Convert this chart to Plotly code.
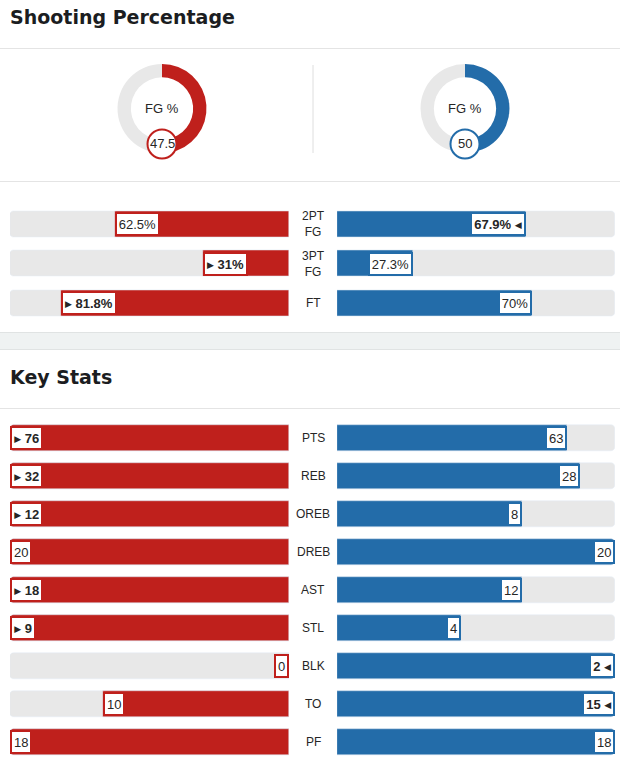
import plotly.graph_objects as go

# ---------------- data ----------------
fg_label = "FG %"
fg_red = 47.5
fg_blue = 50.0
fg_red_txt = "47.5"
fg_blue_txt = "50"

shoot_cats = ["2PT<br>FG", "3PT<br>FG", "FT"]
shoot_red = [62.5, 31.0, 81.8]
shoot_blue = [67.9, 27.3, 70.0]
shoot_red_txt = ["62.5%", "31%", "81.8%"]
shoot_blue_txt = ["67.9%", "27.3%", "70%"]

key_cats = ["PTS", "REB", "OREB", "DREB", "AST", "STL", "BLK", "TO", "PF"]
key_red = [76, 32, 12, 20, 18, 9, 0, 10, 18]
key_blue = [63, 28, 8, 20, 12, 4, 2, 15, 18]

# ---------------- style ----------------
W, H = 620, 764
RED = "#bf201c"
BLUE = "#236ca9"
TRACK = "#e8e8e8"
TXT = "#262626"
RULE = "#e4e4e4"
FONT = "Liberation Sans, Arial, sans-serif"
TFONT = "DejaVu Sans, sans-serif"

RED_X = (10, 289)
BLUE_X = (337, 615)
MID = 313
S_TOP, S_PITCH = 204.25, 39.5
K_TOP, K_PITCH = 419, 38
BAR_PX = 26


def xf(px):
    return px / W


def yf(py):
    return 1 - py / H


# Arial-ish advance widths (em)
CW = {".": 0.278, "%": 0.889, " ": 0.278}


def text_w(s, size):
    return sum(CW.get(c, 0.556) for c in s) * size


fig = go.Figure()


def add_pair(yaxis, xl, xr, n, red_vals, blue_vals, full, width):
    ys = list(range(n))
    common = dict(orientation="h", width=width, hoverinfo="skip", showlegend=False, yaxis=yaxis)
    fig.add_trace(go.Bar(y=ys, x=[full] * n, marker_color=TRACK, xaxis=xl, **common))
    fig.add_trace(go.Bar(y=ys, x=red_vals, marker_color=RED, xaxis=xl, **common))
    fig.add_trace(go.Bar(y=ys, x=[full] * n, marker_color=TRACK, xaxis=xr, **common))
    fig.add_trace(go.Bar(y=ys, x=blue_vals, marker_color=BLUE, xaxis=xr, **common))


# shooting percentage bars (scale 0-100)
add_pair("y", "x", "x2", len(shoot_cats), shoot_red, shoot_blue, 100, BAR_PX / S_PITCH)

# key stats bars (scaled to the larger of the two teams)
key_max = [max(a, b) if max(a, b) > 0 else 1 for a, b in zip(key_red, key_blue)]
key_red_f = [a / m for a, m in zip(key_red, key_max)]
key_blue_f = [b / m for b, m in zip(key_blue, key_max)]
add_pair("y3", "x3", "x4", len(key_cats), key_red_f, key_blue_f, 1, BAR_PX / K_PITCH)

# ---------------- value labels ----------------
TRI_STYLE = "font-size:9px;font-family:DejaVu Sans;baseline-shift:1.5px"
TRI_R = f'<span style="{TRI_STYLE}">▶</span>'
TRI_L = f'<span style="{TRI_STYLE}">◀</span>'


def value_box(xref, yref, x, y, txt, win, side, color, frac, full):
    size = 13
    w = text_w(txt, size)
    if win:
        w += 11
        if side == "red":
            label = f"{TRI_R} <b>{txt}</b>"
        else:
            label = f"<b>{txt}</b> {TRI_L}"
    else:
        label = txt
    bar_px = frac / full * (RED_X[1] - RED_X[0])
    if side == "red":
        anchor = "left" if bar_px >= w + 8 else "right"
    else:
        anchor = "right" if bar_px >= w + 8 else "left"
    fig.add_annotation(
        xref=xref, yref=yref, x=x, y=y, text=label, showarrow=False,
        xanchor=anchor, yanchor="middle", bgcolor="white",
        bordercolor=color, borderwidth=2, borderpad=1,
        width=w + 2, height=18, align="center",
        font=dict(family=FONT, size=size, color=TXT),
    )


for i, (r, b) in enumerate(zip(shoot_red, shoot_blue)):
    value_box("x", "y", r, i, shoot_red_txt[i], r > b, "red", RED, r, 100)
    value_box("x2", "y", b, i, shoot_blue_txt[i], b > r, "blue", BLUE, b, 100)
    fig.add_annotation(xref="paper", yref="y", x=xf(MID), y=i, text=shoot_cats[i],
                       showarrow=False, xanchor="center", yanchor="middle",
                       font=dict(family=FONT, size=12, color=TXT))

for i, (r, b) in enumerate(zip(key_red, key_blue)):
    value_box("x3", "y3", key_red_f[i], i, str(r), r > b, "red", RED, key_red_f[i], 1)
    value_box("x4", "y3", key_blue_f[i], i, str(b), b > r, "blue", BLUE, key_blue_f[i], 1)
    fig.add_annotation(xref="paper", yref="y3", x=xf(MID), y=i, text=key_cats[i],
                       showarrow=False, xanchor="center", yanchor="middle",
                       font=dict(family=FONT, size=12, color=TXT))

# ---------------- donuts ----------------
DONUT_R = 44.5
DONUT_CY = 108.5
donuts = [(162, fg_red, fg_red_txt, RED), (465, fg_blue, fg_blue_txt, BLUE)]
shapes = []
for cx, val, txt, col in donuts:
    fig.add_trace(go.Pie(
        values=[val, 100 - val], marker=dict(colors=[col, TRACK], line=dict(width=0)),
        hole=0.70, sort=False, direction="clockwise", rotation=0,
        textinfo="none", hoverinfo="skip", showlegend=False,
        domain=dict(x=[xf(cx - DONUT_R), xf(cx + DONUT_R)],
                    y=[yf(DONUT_CY + DONUT_R), yf(DONUT_CY - DONUT_R)]),
    ))
    fig.add_annotation(xref="paper", yref="paper", x=xf(cx), y=yf(DONUT_CY), text=fg_label,
                       showarrow=False, xanchor="center", yanchor="middle",
                       font=dict(family=FONT, size=13, color=TXT))
    vy = DONUT_CY + 35.5
    vr = 14.5
    shapes.append(dict(type="circle", xref="paper", yref="paper", layer="above",
                       x0=xf(cx - vr), x1=xf(cx + vr), y0=yf(vy + vr), y1=yf(vy - vr),
                       fillcolor="white", line=dict(color=col, width=2)))
    fig.add_annotation(xref="paper", yref="paper", x=xf(cx), y=yf(vy), text=txt,
                       showarrow=False, xanchor="center", yanchor="middle",
                       font=dict(family=FONT, size=13, color=TXT))

# ---------------- section furniture ----------------
def hline(py, color=RULE):
    return dict(type="line", xref="paper", yref="paper", x0=0, x1=1, y0=yf(py), y1=yf(py),
                line=dict(color=color, width=1), layer="below")


shapes += [
    hline(48.5),
    hline(181.5),
    dict(type="rect", xref="paper", yref="paper", x0=0, x1=1, y0=yf(349.5), y1=yf(332.5),
         fillcolor="#eff2f2", line=dict(width=0), layer="below"),
    hline(332.5, "#e0e3e3"),
    hline(349.5, "#e0e3e3"),
    hline(408.5),
    dict(type="line", xref="paper", yref="paper", x0=xf(MID), x1=xf(MID), y0=yf(153), y1=yf(65),
         line=dict(color="#dedede", width=1), layer="below"),
]

for title, py in [("Shooting Percentage", 17), ("Key Stats", 376.5)]:
    fig.add_annotation(xref="paper", yref="paper", x=xf(8), y=yf(py), text=title,
                       showarrow=False, xanchor="left", yanchor="middle",
                       font=dict(family=TFONT, size=19, color="#1b1d21", weight="bold"))

hidden = dict(visible=False, showgrid=False, zeroline=False, fixedrange=True)
n_s, n_k = len(shoot_cats), len(key_cats)
fig.update_layout(
    width=W, height=H, margin=dict(l=0, r=0, t=0, b=0),
    paper_bgcolor="white", plot_bgcolor="rgba(0,0,0,0)",
    barmode="overlay", barcornerradius=4, bargap=0,
    shapes=shapes,
    xaxis=dict(domain=[xf(RED_X[0]), xf(RED_X[1])], range=[100, 0], anchor="y", **hidden),
    xaxis2=dict(domain=[xf(BLUE_X[0]), xf(BLUE_X[1])], range=[0, 100], anchor="y", **hidden),
    yaxis=dict(domain=[yf(S_TOP + n_s * S_PITCH), yf(S_TOP)], range=[n_s - 0.5, -0.5], anchor="x", **hidden),
    xaxis3=dict(domain=[xf(RED_X[0]), xf(RED_X[1])], range=[1, 0], anchor="y3", **hidden),
    xaxis4=dict(domain=[xf(BLUE_X[0]), xf(BLUE_X[1])], range=[0, 1], anchor="y3", **hidden),
    yaxis3=dict(domain=[yf(K_TOP + n_k * K_PITCH), yf(K_TOP)], range=[n_k - 0.5, -0.5], anchor="x3", **hidden),
)

fig.write_html("out.html", config={"displayModeBar": False},
               post_script="document.body.style.margin='0';")
